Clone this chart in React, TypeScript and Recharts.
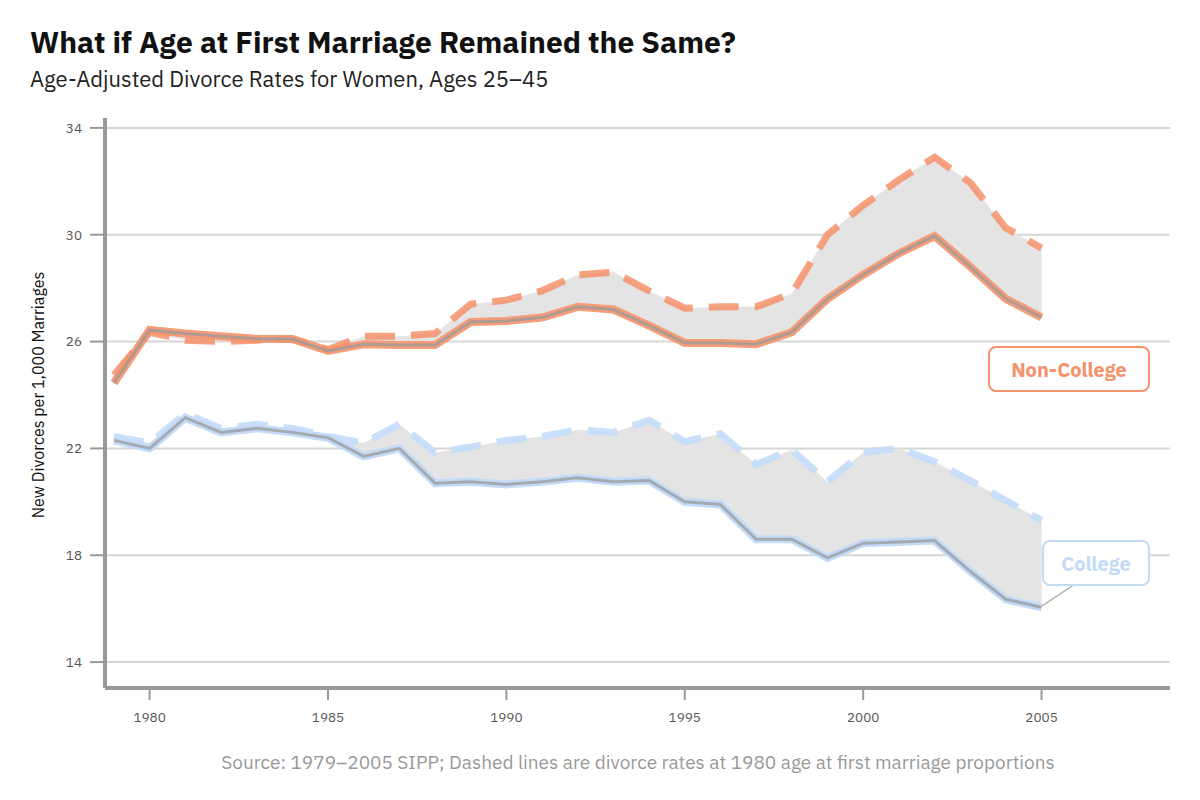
import { ComposedChart, Line, Area, XAxis, YAxis, CartesianGrid } from 'recharts'

const YEARS = [1979, 1980, 1981, 1982, 1983, 1984, 1985, 1986, 1987, 1988, 1989, 1990, 1991, 1992, 1993, 1994, 1995, 1996, 1997, 1998, 1999, 2000, 2001, 2002, 2003, 2004, 2005]
const NC_ACTUAL = [24.45, 26.43, 26.3, 26.2, 26.1, 26.1, 25.65, 25.9, 25.87, 25.87, 26.73, 26.77, 26.9, 27.3, 27.2, 26.6, 25.95, 25.95, 25.9, 26.35, 27.6, 28.5, 29.3, 29.95, 28.8, 27.6, 26.9]
const NC_FIXED = [24.75, 26.35, 26.05, 26.0, 26.05, 26.1, 25.7, 26.2, 26.2, 26.3, 27.4, 27.55, 27.9, 28.5, 28.6, 27.9, 27.25, 27.3, 27.3, 27.8, 30.0, 31.1, 32.05, 32.9, 31.95, 30.25, 29.5]
const C_ACTUAL = [22.3, 22.0, 23.15, 22.6, 22.75, 22.6, 22.4, 21.7, 22.0, 20.7, 20.75, 20.65, 20.75, 20.9, 20.75, 20.8, 20.0, 19.9, 18.6, 18.6, 17.9, 18.45, 18.5, 18.55, 17.4, 16.35, 16.05]
const C_FIXED = [22.45, 22.2, 23.3, 22.75, 22.9, 22.75, 22.45, 22.2, 22.9, 21.85, 22.05, 22.3, 22.45, 22.7, 22.6, 23.05, 22.25, 22.55, 21.4, 21.95, 20.75, 21.85, 22.0, 21.5, 20.8, 20.05, 19.3]
const X_TICKS = [1980, 1985, 1990, 1995, 2000, 2005]
const Y_TICKS = [14, 18, 22, 26, 30, 34]

const ORANGE = '#f5926b'
const BLUE = '#c4dbf8'
const FONT = '"IBM Plex Sans", "Noto Sans", Roboto, sans-serif'

const rows = YEARS.map((year, i) => ({
  year,
  ncA: NC_ACTUAL[i],
  ncF: NC_FIXED[i],
  cA: C_ACTUAL[i],
  cF: C_FIXED[i],
  ncBand: [NC_ACTUAL[i], NC_FIXED[i]],
  cBand: [C_ACTUAL[i], C_FIXED[i]],
}))

const tick = { fontSize: 13.5, fill: '#555', fontFamily: FONT }

export default function App() {
  return (
    <div style={{ position: 'absolute', left: 0, top: 0, width: 1200, height: 800, background: '#fff', fontFamily: FONT }}>
      <div style={{ position: 'absolute', left: 30, top: 22, fontSize: 30, fontWeight: 700, color: '#111' }}>
        What if Age at First Marriage Remained the Same?
      </div>
      <div style={{ position: 'absolute', left: 30, top: 64, fontSize: 22, color: '#222' }}>
        Age-Adjusted Divorce Rates for Women, Ages 25–45
      </div>
      <ComposedChart width={1200} height={800} data={rows} margin={{ top: 118, right: 30, bottom: 0, left: 45 }}>
        <CartesianGrid stroke="#d6d6d6" strokeWidth={2} vertical={false} horizontalValues={Y_TICKS} />
        <XAxis
          dataKey="year" type="number" domain={[1978.75, 2008.6]} ticks={X_TICKS}
          height={112} tick={tick} tickSize={12} tickMargin={12}
          axisLine={{ stroke: '#999', strokeWidth: 4 }} tickLine={{ stroke: '#999', strokeWidth: 2 }}
        />
        <YAxis
          type="number" domain={[13.03, 34.37]} ticks={Y_TICKS} width={60}
          tick={tick} tickSize={15} tickMargin={8}
          axisLine={{ stroke: '#999', strokeWidth: 4 }} tickLine={{ stroke: '#999', strokeWidth: 2 }}
        />
        <Area dataKey="ncBand" fill="#e4e4e4" fillOpacity={1} stroke="none" isAnimationActive={false} />
        <Area dataKey="cBand" fill="#e4e4e4" fillOpacity={1} stroke="none" isAnimationActive={false} />
        <Line dataKey="ncF" stroke={ORANGE} strokeOpacity={0.85} strokeWidth={7} strokeDasharray="30 16" dot={false} isAnimationActive={false} />
        <Line dataKey="cF" stroke={BLUE} strokeOpacity={0.9} strokeWidth={7} strokeDasharray="30 16" dot={false} isAnimationActive={false} />
        <Line dataKey="ncA" stroke={ORANGE} strokeOpacity={0.9} strokeWidth={8} dot={false} isAnimationActive={false} />
        <Line dataKey="ncA" stroke="#999" strokeOpacity={0.75} strokeWidth={3} dot={false} isAnimationActive={false} />
        <Line dataKey="cA" stroke={BLUE} strokeWidth={8} dot={false} isAnimationActive={false} />
        <Line dataKey="cA" stroke="#999" strokeOpacity={0.75} strokeWidth={3} dot={false} isAnimationActive={false} />
      </ComposedChart>
      <div style={{ position: 'absolute', left: 18, top: 395, transform: 'translate(-50%, -50%) rotate(-90deg)', transformOrigin: 'center', whiteSpace: 'nowrap', fontSize: 16, color: '#111', marginLeft: 20 }}>
        New Divorces per 1,000 Marriages
      </div>
      <div style={{ position: 'absolute', left: 988, top: 346, width: 158, height: 42, border: `2px solid ${ORANGE}`, borderRadius: 8, background: '#fff', color: ORANGE, fontWeight: 700, fontSize: 20, display: 'flex', alignItems: 'center', justifyContent: 'center' }}>
        Non-College
      </div>
      <svg style={{ position: 'absolute', left: 0, top: 0, pointerEvents: 'none' }} width={1200} height={800}>
        <line x1={1042} y1={606} x2={1075} y2={584} stroke="#aaa" strokeWidth={1.5} />
      </svg>
      <div style={{ position: 'absolute', left: 1042, top: 540, width: 104, height: 42, border: `2px solid ${BLUE}`, borderRadius: 8, background: '#fff', color: BLUE, fontWeight: 700, fontSize: 20, display: 'flex', alignItems: 'center', justifyContent: 'center' }}>
        College
      </div>
      <div style={{ position: 'absolute', left: 0, width: 1276, top: 750, textAlign: 'center', fontSize: 19, color: '#999' }}>
        Source: 1979–2005 SIPP; Dashed lines are divorce rates at 1980 age at first marriage proportions
      </div>
    </div>
  )
}
